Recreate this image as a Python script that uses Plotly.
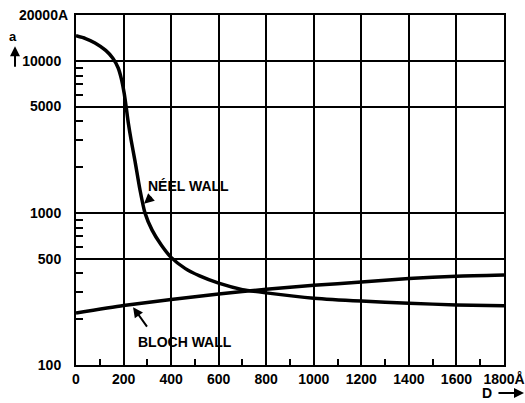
import math
import plotly.graph_objects as go

# Wall width a (Å) versus film thickness D (Å)
neel_d = [0, 40, 80, 125, 155, 177, 190, 202, 210, 220, 232, 248, 269, 290,
          320, 360, 400, 460, 520, 600, 700, 800, 1000, 1200, 1400, 1600, 1800]
neel_a = [14600, 14000, 13100, 11700, 10400, 9000, 7700, 6200, 5100, 3900,
          3000, 2200, 1420, 1000, 770, 610, 510, 430, 385, 345, 313, 298,
          275, 263, 255, 248, 245]

bloch_d = [0, 200, 400, 600, 800, 1000, 1200, 1400, 1600, 1800]
bloch_a = [220, 246, 270, 293, 315, 334, 351, 370, 383, 390]

x_ticks = [0, 200, 400, 600, 800, 1000, 1200, 1400, 1600, 1800]
x_labels = ["0", "200", "400", "600", "800", "1000", "1200", "1400", "1600",
            "1800Å"]
x_minor = [100, 300, 500, 700, 900, 1100, 1300, 1500, 1700]
y_ticks = [100, 500, 1000, 5000, 10000]
y_minor = [200, 300, 400, 600, 700, 800, 900, 2000, 3000, 4000,
           6000, 7000, 8000, 9000]

FONT = "Liberation Sans"
INK = "black"

fig = go.Figure()
fig.add_trace(go.Scatter(x=neel_d, y=neel_a, mode="lines",
                         line=dict(color=INK, width=3.5, shape="spline",
                                   smoothing=0.6),
                         showlegend=False))
fig.add_trace(go.Scatter(x=bloch_d, y=bloch_a, mode="lines",
                         line=dict(color=INK, width=3.5, shape="spline",
                                   smoothing=0.6),
                         showlegend=False))

axis_common = dict(
    showline=True, mirror=True, linecolor=INK, linewidth=2,
    showgrid=True, gridcolor=INK, gridwidth=2,
    ticks="", zeroline=False, automargin=False,
    tickfont=dict(family=FONT, size=14, color=INK, weight="bold"),
)

fig.update_xaxes(
    range=[0, 1800], tickmode="array", tickvals=x_ticks, ticktext=x_labels,
    ticklabelstandoff=0,
    minor=dict(tickmode="array", tickvals=x_minor, ticks="inside",
               ticklen=6, tickwidth=2, tickcolor=INK, showgrid=False),
    **axis_common,
)
fig.update_yaxes(
    type="log", range=[2, math.log10(20000)], tickmode="array",
    tickvals=y_ticks, ticktext=[str(v) for v in y_ticks],
    ticklabelstandoff=10,
    minor=dict(tickmode="array", tickvals=y_minor, ticks="inside",
               ticklen=7, tickwidth=2, tickcolor=INK, showgrid=False),
    **axis_common,
)

label_font = dict(family=FONT, size=14, color=INK, weight="bold")
annotations = [
    dict(text="20000A", xref="paper", yref="paper", x=-0.014, y=1.0,
         xanchor="right", yanchor="middle", showarrow=False, font=label_font),
    dict(text="a", xref="paper", yref="paper", x=-0.147, y=0.94,
         xanchor="center", yanchor="middle", showarrow=False,
         font=dict(family=FONT, size=13, color=INK, weight="bold")),
    dict(text="", xref="paper", yref="paper", x=-0.1425, y=0.911,
         ax=0, ay=22, showarrow=True, arrowhead=2, arrowsize=1,
         arrowwidth=2, arrowcolor=INK),
    dict(text="D", xref="paper", yref="paper", x=0.960, y=-0.08,
         xanchor="center", yanchor="middle", showarrow=False, font=label_font),
    dict(text="", xref="paper", yref="paper", x=1.049, y=-0.08,
         ax=-28, ay=0, showarrow=True, arrowhead=2, arrowsize=1,
         arrowwidth=2, arrowcolor=INK),
    dict(text="NÉEL WALL", xref="paper", yref="paper", x=0.264, y=0.511,
         xanchor="center", yanchor="middle", showarrow=False, font=label_font),
    dict(text="", xref="x", yref="y", x=286, y=math.log10(1150),
         ax=9, ay=-8, showarrow=True, arrowhead=2, arrowsize=1,
         arrowwidth=2, arrowcolor=INK),
    dict(text="BLOCH WALL", xref="paper", yref="paper", x=0.255, y=0.066,
         xanchor="center", yanchor="middle", showarrow=False, font=label_font),
    dict(text="", xref="x", yref="y", x=240, y=math.log10(240),
         ax=15, ay=21, showarrow=True, arrowhead=2, arrowsize=1,
         arrowwidth=2, arrowcolor=INK),
]

fig.update_layout(
    width=525, height=403,
    margin=dict(l=76, r=21, t=15, b=38),
    paper_bgcolor="white", plot_bgcolor="white",
    annotations=annotations,
    showlegend=False,
)

fig.write_html("out.html")
